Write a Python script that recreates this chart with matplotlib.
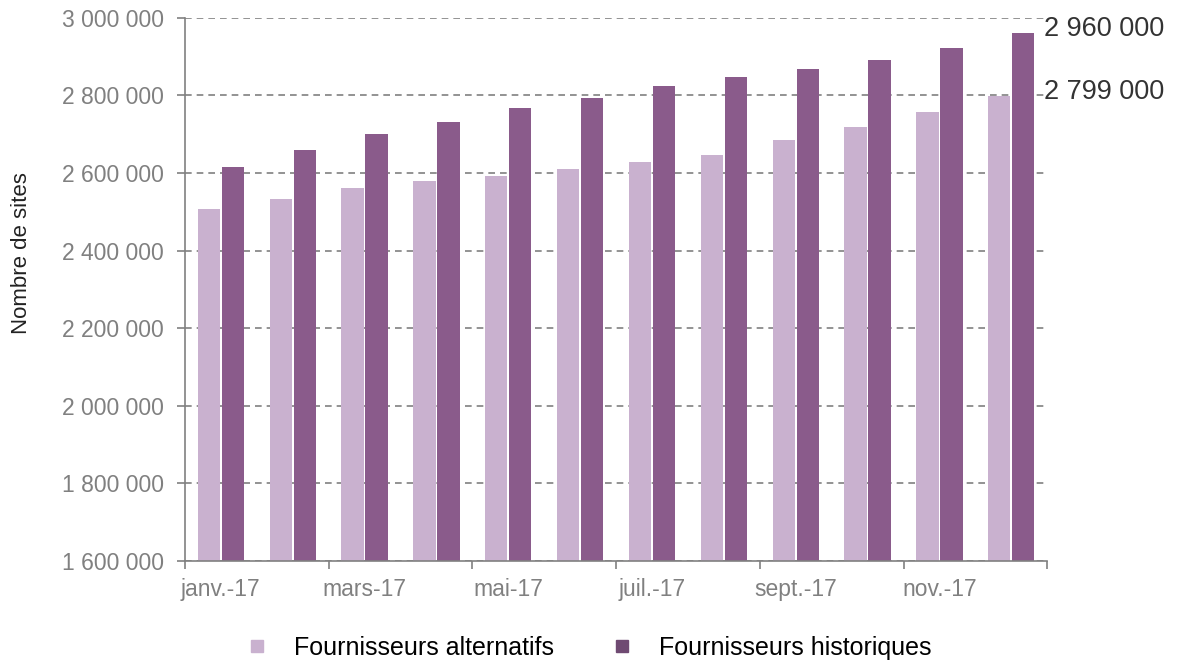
import matplotlib
matplotlib.use("Agg")
import matplotlib.pyplot as plt
from matplotlib.lines import Line2D
from matplotlib.ticker import FuncFormatter, FixedLocator
import numpy as np

plt.rcParams['font.family'] = ['Liberation Sans', 'DejaVu Sans']

# data
mois = ['janv.-17', 'févr.-17', 'mars-17', 'avr.-17', 'mai-17', 'juin-17',
        'juil.-17', 'août-17', 'sept.-17', 'oct.-17', 'nov.-17', 'déc.-17']
alternatifs = [2507000, 2533000, 2562000, 2580000, 2593000, 2611000,
               2629000, 2647000, 2685000, 2719000, 2758000, 2799000]
historiques = [2616000, 2660000, 2701000, 2732000, 2768000, 2794000,
               2825000, 2848000, 2869000, 2892000, 2923000, 2960000]
noms = ['Fournisseurs alternatifs', 'Fournisseurs historiques']

c_alt = '#c9b1cf'
c_hist = '#8a5b8b'
gris = '#808080'

fig = plt.figure(figsize=(11.78, 6.6), dpi=100)
ax = fig.add_axes([0.157, 0.15, 0.732, 0.823])

x = np.arange(len(mois)) + 0.5
w = 0.31
ax.bar(x - 0.167, alternatifs, w, color=c_alt, zorder=2)
ax.bar(x + 0.167, historiques, w, color=c_hist, zorder=2)

ax.set_xlim(0, len(mois))
ax.set_ylim(1600000, 3000000)
ax.set_yticks(np.arange(1600000, 3000001, 200000))
ax.yaxis.set_major_formatter(FuncFormatter(lambda v, p: '{:,}'.format(int(v)).replace(',', ' ')))
ax.grid(axis='y', linestyle=(0, (4, 3)), color=gris, linewidth=1.2, zorder=0)
ax.set_axisbelow(True)

# ticks at category boundaries, labels centred on every other month
ax.xaxis.set_major_locator(FixedLocator(np.arange(0, len(mois) + 1, 2)))
ax.xaxis.set_major_formatter(FuncFormatter(lambda v, p: ''))
ax.xaxis.set_minor_locator(FixedLocator(x[::2]))
ax.set_xticklabels(mois[::2], minor=True)
ax.tick_params(axis='x', which='minor', length=0, pad=12, labelsize=16.5, labelcolor=gris)
ax.tick_params(axis='x', which='major', length=6, color=gris, width=1.2)
ax.tick_params(axis='y', length=6, color=gris, width=1.2, labelsize=16.5, labelcolor=gris, pad=9)

for s in ['top', 'right']:
    ax.spines[s].set_visible(False)
for s in ['left', 'bottom']:
    ax.spines[s].set_color(gris)
    ax.spines[s].set_linewidth(1.2)

ax.set_ylabel('Nombre de sites', fontsize=16, color='#222222')
ax.yaxis.set_label_coords(-0.177, 0.567)

# value labels for the last month
for v in [historiques[-1], alternatifs[-1]]:
    ax.annotate('{:,}'.format(v).replace(',', ' '), xy=(len(mois), v), xycoords='data',
                xytext=(-2, 3), textcoords='offset points', ha='left', va='center',
                fontsize=19.5, color='#333333', annotation_clip=False)

handles = [Line2D([], [], marker='s', linestyle='none', markersize=9, color=c_alt),
           Line2D([], [], marker='s', linestyle='none', markersize=9, color='#6f4a72')]
fig.legend(handles, noms, loc='center', bbox_to_anchor=(0.499, 0.018), ncol=2,
           frameon=False, fontsize=18, handlelength=1, handletextpad=1.0, columnspacing=2.2)

fig.savefig('out.png', dpi=100)
